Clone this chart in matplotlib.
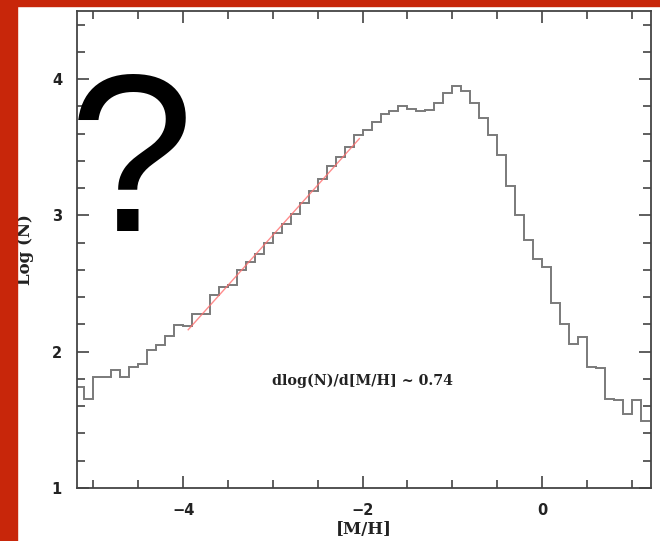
import numpy as np
import matplotlib
matplotlib.use('Agg')
import matplotlib.pyplot as plt
from matplotlib.patches import Rectangle
from matplotlib.ticker import MultipleLocator

# histogram of metallicity, bins of 0.1 dex starting at -5.2
bin_start = -5.2
bin_width = 0.1
log_n = [1.74, 1.655, 1.813, 1.813, 1.864, 1.815, 1.889, 1.908, 2.011, 2.048,
         2.116, 2.199, 2.19, 2.274, 2.274, 2.419, 2.475, 2.49, 2.602, 2.656,
         2.719, 2.80, 2.873, 2.936, 3.012, 3.09, 3.176, 3.269, 3.362, 3.43,
         3.50, 3.593, 3.63, 3.684, 3.743, 3.769, 3.806, 3.782, 3.764, 3.777,
         3.826, 3.899, 3.948, 3.916, 3.826, 3.716, 3.593, 3.447, 3.215, 3.00,
         2.817, 2.678, 2.621, 2.358, 2.203, 2.06, 2.108, 1.889, 1.877, 1.655,
         1.645, 1.545, 1.645, 1.495]

# linear fit on the metal poor side
fit_x = [-3.944, -2.036]
fit_slope = 0.735
fit_icpt = 5.06
fit_label = 'dlog(N)/d[M/H] ~ 0.74'

red = '#c8260a'
serif = 'DejaVu Serif'

fig = plt.figure(figsize=(6.6, 5.41), dpi=100)
fig.patch.set_facecolor('white')
# red frame of the slide
fig.patches.append(Rectangle((0, 0), 17/660, 1, transform=fig.transFigure, color=red, zorder=0))
fig.patches.append(Rectangle((0, 1 - 6/541), 1, 6/541, transform=fig.transFigure, color=red, zorder=0))

ax = fig.add_axes([77.3/660, 53/541, (651 - 77.3)/660, (488 - 11)/541])

edges = bin_start + bin_width*np.arange(len(log_n) + 1)
ax.stairs(log_n, edges, baseline=None, color='#7a7a7a', lw=1.4)

fx = np.array(fit_x)
ax.plot(fx, fit_slope*fx + fit_icpt, color='#ff7070', lw=1.0, alpha=0.8)

ax.text(-2.0, 1.79, fit_label, ha='center', va='center', fontsize=10.3,
        family=serif, weight='bold', color='#222222')

ax.set_xlim(-5.18, 1.215)
ax.set_ylim(1, 4.5)
ax.xaxis.set_major_locator(MultipleLocator(2))
ax.xaxis.set_minor_locator(MultipleLocator(0.5))
ax.yaxis.set_major_locator(MultipleLocator(1))
ax.yaxis.set_minor_locator(MultipleLocator(0.2))
ax.tick_params(which='both', direction='in', top=True, right=True, color='#333333', width=1.1)
ax.tick_params(which='major', length=8.5, pad=11, labelsize=10.5, labelcolor='#222222')
ax.tick_params(which='minor', length=5.5)
for s in ax.spines.values():
    s.set_linewidth(1.3)
    s.set_color('#444444')
for lab in ax.get_xticklabels() + ax.get_yticklabels():
    lab.set_family('DejaVu Sans')
    lab.set_weight('bold')

ax.set_xlabel('[M/H]', family=serif, weight='bold', fontsize=12, labelpad=2, color='#222222')
ax.set_ylabel('Log (N)', family=serif, weight='bold', fontsize=12, labelpad=13, color='#222222')

# big question mark over the plot
fig.text(131/660, (541 - 231)/541, '?', ha='center', va='baseline', fontsize=162,
         family=['Liberation Sans Narrow', 'Liberation Sans'], color='black')

fig.savefig('out.png', dpi=100)
